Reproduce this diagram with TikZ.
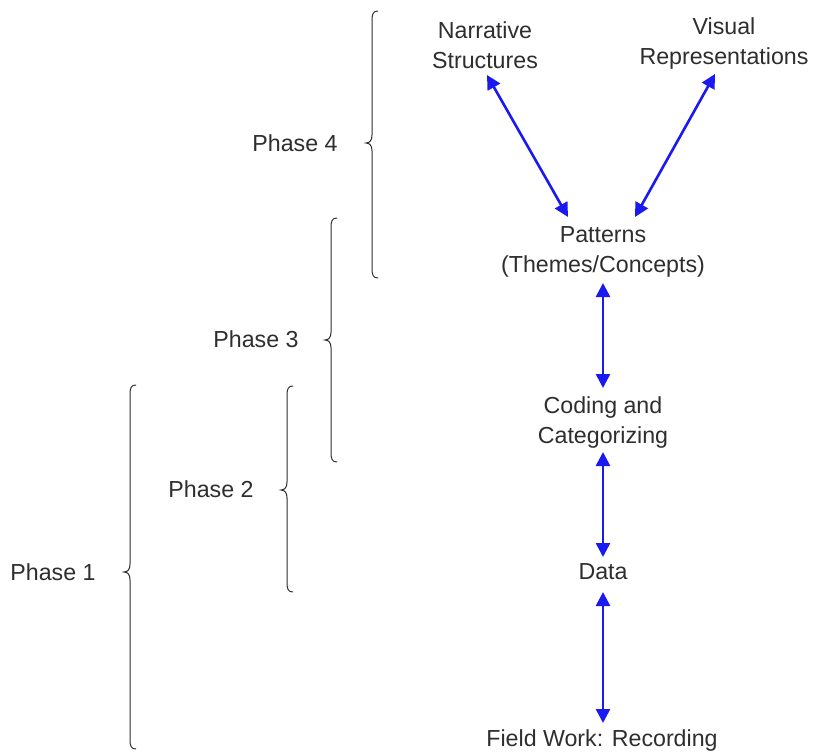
\documentclass[tikz,border=0pt]{standalone}
\usepackage{fontspec}
\setmainfont{Liberation Sans}
\usetikzlibrary{arrows.meta}
\definecolor{txt}{HTML}{2E2E2E}
\definecolor{arr}{HTML}{1A1AF0}
\newcommand{\phbrace}[4]{% x, top, mid, bottom
  \draw[bracestyle] ({#1+6},#2) .. controls ({#1+1},#2) and (#1,{#2+3}) .. (#1,{#2+10})
    -- (#1,{#3-8}) .. controls (#1,{#3-3}) and ({#1-2},#3) .. ({#1-6},#3)
    .. controls ({#1-2},#3) and (#1,{#3+3}) .. (#1,{#3+8})
    -- (#1,{#4-10}) .. controls (#1,{#4-3}) and ({#1+1},#4) .. ({#1+6},#4);}
\begin{document}
\begin{tikzpicture}[x=1pt,y=-1pt,
  lbl/.style={text=txt,font=\fontsize{23.2}{30}\selectfont,align=center,inner sep=0pt},
  link/.style={arr,line width=2.6pt,{Triangle[length=14pt,width=14pt]}-{Triangle[length=14pt,width=14pt]}},
  bracestyle/.style={draw=txt,line width=1pt}]
\useasboundingbox (0,0) rectangle (814,754);
\fill[white] (0,0) rectangle (814,754);
% nodes
\node[lbl] (nar) at (485,45) {Narrative\\Structures};
\node[lbl] (vis) at (724,44) {Visual\\Representations};
\node[lbl] (pat) at (603,252) {Patterns\\(Themes/Concepts)};
\node[lbl] (cod) at (603,422) {Coding and\\Categorizing};
\node[lbl] (dat) at (603,572) {Data};
\node[lbl] (fld) at (602,740) {Field Work: Recording};
% phase labels
\node[lbl] (p4) at (295,143) {Phase 4};
\node[lbl] (p3) at (256,339) {Phase 3};
\node[lbl] (p2) at (211,489) {Phase 2};
\node[lbl] (p1) at (53,572) {Phase 1};
% connectors
\coordinate (na) at (487,75);
\coordinate (pn) at (568,217);
\coordinate (va) at (715,74);
\coordinate (pv) at (635,217);
\draw[link] (na) -- (pn);
\draw[link] (va) -- (pv);
\draw[link] (603,283) -- (603,388);
\draw[link] (603,452) -- (603,557);
\draw[link] (603,592) -- (603,723);
% braces
\phbrace{372}{11}{143}{278}
\phbrace{331}{218}{340}{462}
\phbrace{287}{386}{490}{592}
\phbrace{130}{385}{572}{749}
\end{tikzpicture}
\end{document}
